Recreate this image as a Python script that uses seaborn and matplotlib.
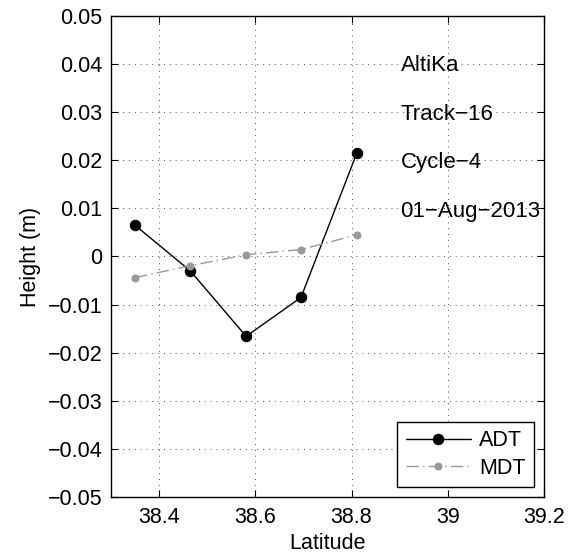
import matplotlib
matplotlib.use("Agg")
import matplotlib.pyplot as plt
import seaborn as sns
import pandas as pd
import numpy as np

# data
lat = [38.350, 38.465, 38.581, 38.695, 38.811]
adt = [0.0065, -0.0030, -0.0166, -0.0085, 0.0215]
mdt = [-0.0044, -0.0019, 0.00035, 0.00145, 0.0045]
info_lines = ["AltiKa", "Track\u221216", "Cycle\u22124", "01\u2212Aug\u22122013"]
info_y = [0.0386, 0.0283, 0.0183, 0.0083]
xticks = [38.4, 38.6, 38.8, 39.0, 39.2]
yticks = np.round(np.arange(-0.05, 0.0501, 0.01), 2)

sns.set_style("ticks")
plt.rcParams["font.family"] = ["Liberation Sans", "DejaVu Sans"]
plt.rcParams["axes.unicode_minus"] = True
plt.rcParams["text.color"] = "black"
plt.rcParams["axes.labelcolor"] = "black"

df = pd.DataFrame({"lat": lat, "ADT": adt, "MDT": mdt})

fig = plt.figure(figsize=(5.70, 5.57), dpi=100)
ax = fig.add_axes([0.1947, 0.1077, 0.7596, 0.8636])

sns.lineplot(data=df, x="lat", y="ADT", ax=ax, color="black", lw=1.0,
             marker="o", markersize=7.5, markeredgecolor="black", label="ADT")
sns.lineplot(data=df, x="lat", y="MDT", ax=ax, color="#999999", lw=1.0,
             linestyle=(0, (9, 3, 1, 3)), marker="o", markersize=5,
             markeredgecolor="#999999", label="MDT")

ax.set_xlim(38.3, 39.2)
ax.set_ylim(-0.05, 0.05)
ax.set_xticks(xticks)
ax.set_xticklabels(["38.4", "38.6", "38.8", "39", "39.2"])
ax.set_yticks(yticks)
ax.set_yticklabels([f"{v:.2f}".replace("-", "\u2212") if v != 0 else "0" for v in yticks])
ax.tick_params(direction="in", top=True, right=True, length=5, width=0.8,
               labelsize=15.5, colors="black", labelcolor="black")
ax.tick_params(axis="y", pad=6)
ax.tick_params(axis="x", pad=7)
ax.grid(True, linestyle=(0, (1, 5)), color="black", lw=0.7, alpha=0.7)
for s in ax.spines.values():
    s.set_linewidth(1.0)
    s.set_color("black")

ax.set_xlabel("Latitude", fontsize=15.5, labelpad=4)
ax.set_ylabel("Height (m)", fontsize=15.5, labelpad=5)

for txt, yv in zip(info_lines, info_y):
    ax.text(38.902, yv, txt, fontsize=16, va="baseline", ha="left")

leg = ax.legend(loc="lower right", fontsize=15.5, frameon=True, fancybox=False,
                edgecolor="black", framealpha=1, handlelength=3.0,
                handletextpad=0.4, borderaxespad=0.45, labelspacing=0.3,
                borderpad=0.4)
leg.get_frame().set_linewidth(1.0)

fig.savefig("out.png", dpi=100)
